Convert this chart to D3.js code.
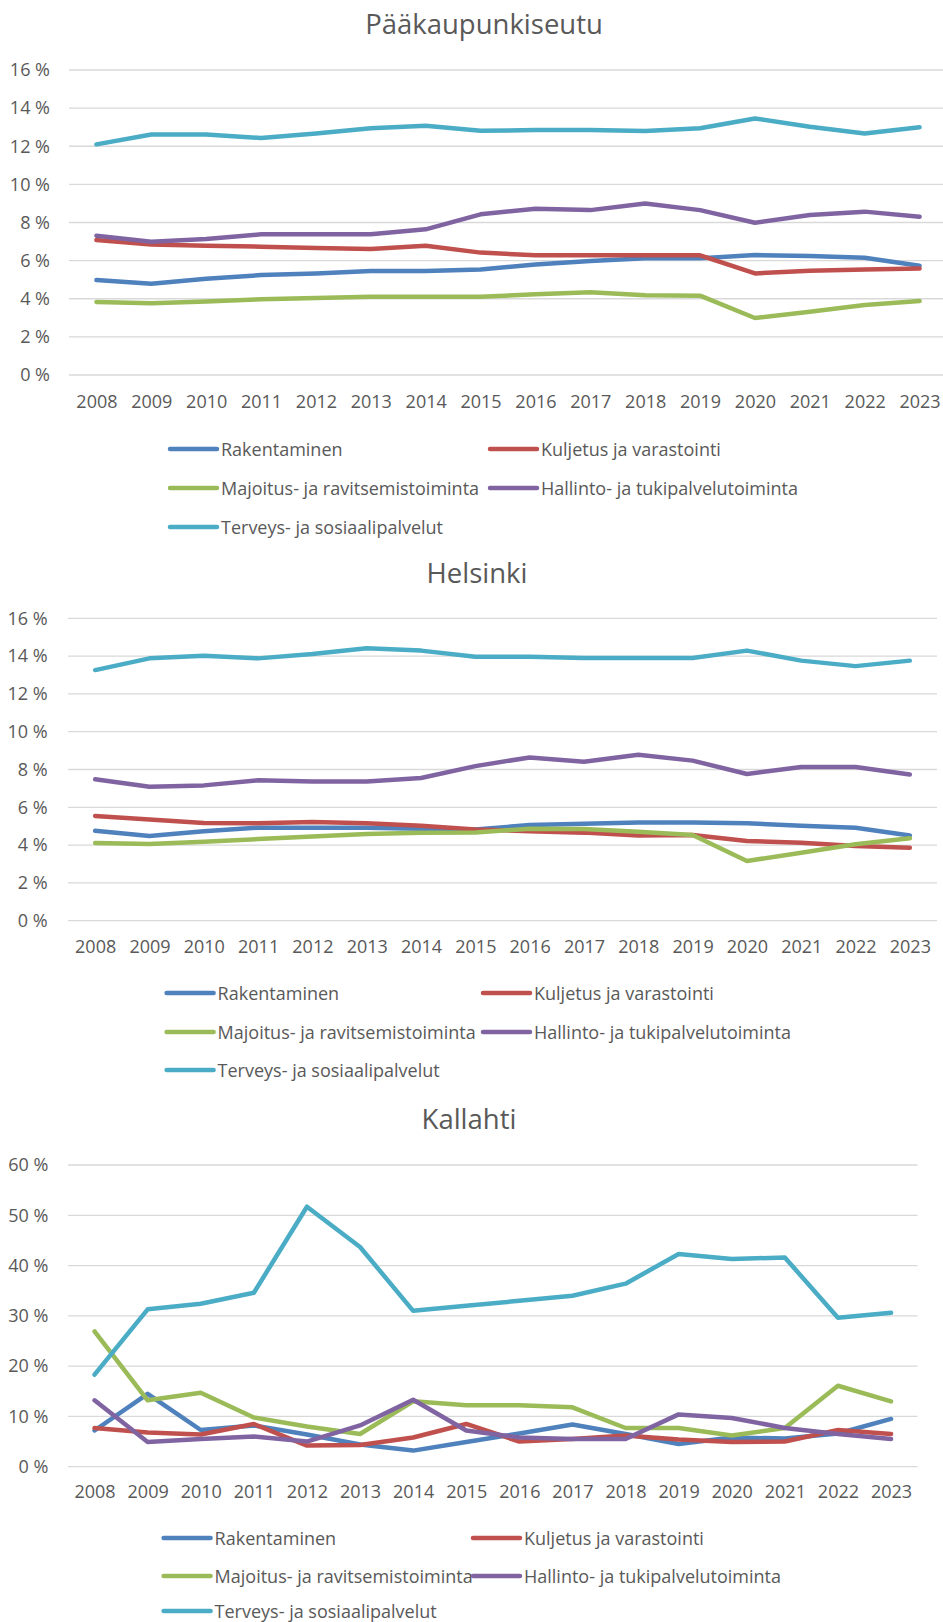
<!DOCTYPE html>
<html>
<head>
<meta charset="utf-8">
<script src="https://cdn.jsdelivr.net/npm/d3@7"></script>
<style>
  body { margin: 0; background: #fff; }
  svg { display: block; }
  text { font-family: "Open Sans", sans-serif; fill: #595959; }
</style>
</head>
<body>
<svg id="chart" width="943" height="1622"></svg>
<script>
"use strict";

var years = ['2008', '2009', '2010', '2011', '2012', '2013', '2014', '2015',
             '2016', '2017', '2018', '2019', '2020', '2021', '2022', '2023'];

var series_names = [
  'Rakentaminen',
  'Kuljetus ja varastointi',
  'Majoitus- ja ravitsemistoiminta',
  'Hallinto- ja tukipalvelutoiminta',
  'Terveys- ja sosiaalipalvelut'
];
var series_colors = ['#4f81bd', '#c0504d', '#9bbb59', '#8064a2', '#4bacc6'];

var titles = ['Pääkaupunkiseutu', 'Helsinki', 'Kallahti'];
var y_ticks_small = [0, 2, 4, 6, 8, 10, 12, 14, 16];
var y_ticks_kallahti = [0, 10, 20, 30, 40, 50, 60];

// Pääkaupunkiseutu, share of jobs (%)
var pk_rakentaminen = [4.98, 4.79, 5.05, 5.24, 5.33, 5.45, 5.45, 5.54, 5.80, 5.98, 6.12, 6.12, 6.29, 6.24, 6.15, 5.73];
var pk_kuljetus     = [7.08, 6.85, 6.78, 6.73, 6.66, 6.61, 6.78, 6.42, 6.28, 6.28, 6.28, 6.28, 5.33, 5.47, 5.54, 5.59];
var pk_majoitus     = [3.83, 3.76, 3.85, 3.97, 4.04, 4.11, 4.11, 4.11, 4.23, 4.34, 4.18, 4.16, 2.99, 3.32, 3.67, 3.88];
var pk_hallinto     = [7.31, 6.99, 7.13, 7.38, 7.38, 7.38, 7.64, 8.43, 8.72, 8.65, 9.00, 8.65, 7.99, 8.39, 8.57, 8.30];
var pk_terveys      = [12.10, 12.62, 12.62, 12.43, 12.67, 12.94, 13.08, 12.81, 12.85, 12.85, 12.80, 12.94, 13.46, 13.02, 12.67, 13.00];

// Helsinki
var hki_rakentaminen = [4.76, 4.48, 4.73, 4.92, 4.92, 4.92, 4.87, 4.83, 5.06, 5.13, 5.20, 5.20, 5.15, 5.03, 4.92, 4.51];
var hki_kuljetus     = [5.54, 5.36, 5.17, 5.15, 5.22, 5.15, 5.03, 4.83, 4.73, 4.66, 4.51, 4.53, 4.22, 4.13, 3.95, 3.86];
var hki_majoitus     = [4.11, 4.06, 4.18, 4.32, 4.46, 4.59, 4.66, 4.67, 4.87, 4.85, 4.71, 4.53, 3.16, 3.60, 4.04, 4.36];
var hki_hallinto     = [7.48, 7.09, 7.16, 7.43, 7.37, 7.37, 7.55, 8.18, 8.64, 8.41, 8.78, 8.47, 7.76, 8.13, 8.13, 7.74];
var hki_terveys      = [13.26, 13.88, 14.02, 13.88, 14.11, 14.41, 14.29, 13.97, 13.97, 13.90, 13.90, 13.90, 14.29, 13.76, 13.47, 13.76];

// Kallahti
var kal_rakentaminen = [7.2, 14.5, 7.3, 8.2, 6.4, 4.4, 3.2, 4.9, 6.6, 8.4, 6.5, 4.5, 5.8, 5.6, 6.6, 9.5];
var kal_kuljetus     = [7.7, 6.8, 6.4, 8.5, 4.2, 4.3, 5.8, 8.5, 5.0, 5.5, 6.2, 5.4, 4.9, 5.0, 7.3, 6.5];
var kal_majoitus     = [26.9, 13.2, 14.7, 9.8, 8.0, 6.5, 13.0, 12.2, 12.2, 11.8, 7.7, 7.7, 6.2, 7.7, 16.1, 13.0];
var kal_hallinto     = [13.2, 4.9, 5.5, 6.0, 5.0, 8.2, 13.3, 7.2, 5.8, 5.5, 5.5, 10.4, 9.7, 7.7, 6.5, 5.5];
var kal_terveys      = [18.3, 31.3, 32.4, 34.6, 51.7, 43.7, 31.0, 32.0, 33.0, 34.0, 36.4, 42.3, 41.3, 41.6, 29.6, 30.6];

// Where each of the three stacked charts sits on the page.
var layouts = [
  { title_x: 484, title_y: 23, left: 69, right: 947, top: 70, bottom: 375, label_right: 50,
    years_y: 402, legend_rows: [449, 488, 527], legend_cols: [170, 490] },
  { title_x: 477, title_y: 572, left: 68, right: 937, top: 618.3, bottom: 920.7, label_right: 47.7,
    years_y: 947, legend_rows: [993, 1032, 1070], legend_cols: [166.6, 483] },
  { title_x: 469, title_y: 1118, left: 68, right: 917.6, top: 1165, bottom: 1466.7, label_right: 48.3,
    years_y: 1492, legend_rows: [1538, 1576, 1611], legend_cols: [163.6, 473] }
];

function draw_chart(svg, layout, title, series, y_ticks) {
  var g = svg.append('g');

  var x = d3.scalePoint()
    .domain(years)
    .range([layout.left, layout.right])
    .padding(0.5);
  var y = d3.scaleLinear()
    .domain([0, y_ticks[y_ticks.length - 1]])
    .range([layout.bottom, layout.top]);

  g.append('text')
    .attr('x', layout.title_x)
    .attr('y', layout.title_y)
    .attr('text-anchor', 'middle')
    .attr('dominant-baseline', 'central')
    .style('font-size', '27.5px')
    .text(title);

  g.selectAll('line.grid')
    .data(y_ticks)
    .join('line')
    .attr('class', 'grid')
    .attr('x1', layout.left)
    .attr('x2', layout.right)
    .attr('y1', function(d) { return y(d); })
    .attr('y2', function(d) { return y(d); })
    .attr('stroke', '#d9d9d9')
    .attr('stroke-width', 1.3);

  var y_axis = g.append('g')
    .attr('transform', 'translate(' + layout.label_right + ',0)')
    .call(d3.axisLeft(y).tickValues(y_ticks).tickSize(0).tickPadding(0)
      .tickFormat(function(d) { return d + ' %'; }));
  var x_axis = g.append('g')
    .attr('transform', 'translate(0,' + layout.years_y + ')')
    .call(d3.axisBottom(x).tickSize(0).tickPadding(0));

  [y_axis, x_axis].forEach(function(axis) {
    axis.select('.domain').remove();
    axis.selectAll('text')
      .attr('fill', '#595959')
      .style('font-family', '"Open Sans", sans-serif')
      .style('font-size', '18px');
  });
  x_axis.selectAll('text').attr('dy', '0.35em').attr('y', 0);

  var line = d3.line()
    .x(function(d, i) { return x(years[i]); })
    .y(function(d) { return y(d); });

  g.selectAll('path.series')
    .data(series)
    .join('path')
    .attr('class', 'series')
    .attr('d', line)
    .attr('fill', 'none')
    .attr('stroke', function(d, i) { return series_colors[i]; })
    .attr('stroke-width', 4.5)
    .attr('stroke-linejoin', 'round')
    .attr('stroke-linecap', 'round');

  // Legend: two columns, three rows, swatch then label.
  var items = g.selectAll('g.legend-item')
    .data(series_names)
    .join('g')
    .attr('class', 'legend-item')
    .attr('transform', function(d, i) {
      return 'translate(' + layout.legend_cols[i % 2] + ',' + layout.legend_rows[Math.floor(i / 2)] + ')';
    });
  items.append('line')
    .attr('x1', 0)
    .attr('x2', 47)
    .attr('stroke', function(d, i) { return series_colors[i]; })
    .attr('stroke-width', 4.5)
    .attr('stroke-linecap', 'round');
  items.append('text')
    .attr('x', 51)
    .attr('dominant-baseline', 'central')
    .style('font-size', '18px')
    .text(function(d) { return d; });
}

var svg = d3.select('#chart');
draw_chart(svg, layouts[0], titles[0],
  [pk_rakentaminen, pk_kuljetus, pk_majoitus, pk_hallinto, pk_terveys], y_ticks_small);
draw_chart(svg, layouts[1], titles[1],
  [hki_rakentaminen, hki_kuljetus, hki_majoitus, hki_hallinto, hki_terveys], y_ticks_small);
draw_chart(svg, layouts[2], titles[2],
  [kal_rakentaminen, kal_kuljetus, kal_majoitus, kal_hallinto, kal_terveys], y_ticks_kallahti);
</script>
</body>
</html>
